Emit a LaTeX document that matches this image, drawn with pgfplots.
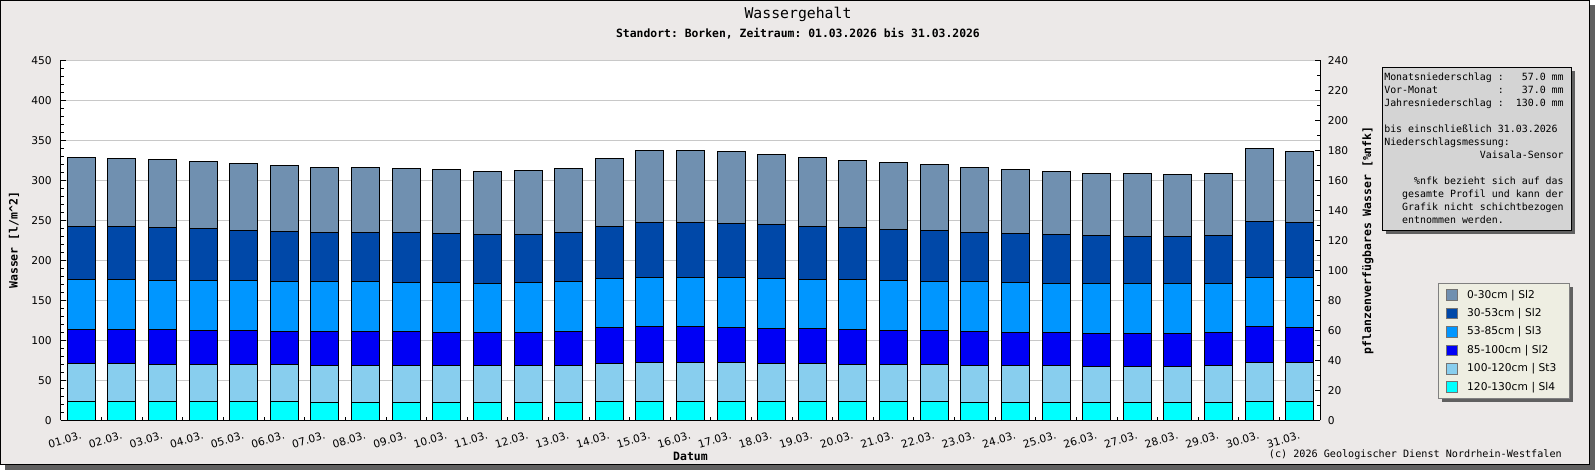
\documentclass[border=0pt]{standalone}
\usepackage{pgfplots}
\pgfplotsset{compat=1.18}
\usepackage{pgfplotstable}
\usepackage{fontspec}
\setmainfont{DejaVu Sans}
\setmonofont{DejaVu Sans Mono}

\definecolor{bg}{RGB}{236,233,232}
\definecolor{cS}{RGB}{112,144,176}
\definecolor{cD}{RGB}{0,72,168}
\definecolor{cM}{RGB}{0,150,255}
\definecolor{cB}{RGB}{0,0,245}
\definecolor{cL}{RGB}{136,206,238}
\definecolor{cC}{RGB}{0,255,255}
\definecolor{legbg}{RGB}{238,238,226}
\definecolor{infobg}{RGB}{212,212,212}
\definecolor{shadowc}{RGB}{96,96,96}
\definecolor{gridc}{RGB}{200,200,200}

% layer water content [l/m^2], bottom layer first
\pgfplotstableread{
x  c    lb   b    m    d    s
1  23.3 47.5 42.9 62.1 66.7 86.2
2  23.3 47.5 42.9 62.1 66.7 85.0
3  23.3 46.3 44.1 60.9 66.6 85.1
4  23.3 46.3 42.8 62.2 65.4 83.7
5  23.3 46.3 42.8 62.2 62.9 83.7
6  23.3 46.3 41.6 62.1 62.9 82.5
7  22.1 46.2 42.9 62.1 61.7 81.2
8  22.1 46.2 42.9 62.1 61.7 81.2
9  22.1 46.2 42.9 60.9 62.9 80.0
10 22.1 46.2 41.7 62.1 61.6 80.0
11 22.3 46.0 41.7 61.0 61.5 78.7
12 22.5 45.8 41.7 62.5 60.0 80.0
13 22.5 45.8 42.9 62.5 61.3 80.0
14 23.7 47.5 45.0 61.3 65.0 85.0
15 23.7 48.8 45.0 61.2 68.8 90.0
16 23.7 48.8 45.0 61.2 68.8 90.0
17 23.7 48.8 43.7 62.5 67.5 90.0
18 23.7 47.5 43.8 62.5 67.5 87.5
19 23.7 47.5 43.8 61.2 66.3 86.2
20 23.7 46.3 43.7 62.5 65.0 83.8
21 23.7 45.9 42.9 62.5 63.7 83.8
22 23.7 45.9 42.9 61.2 63.8 82.5
23 22.5 45.8 42.9 62.5 61.3 81.2
24 22.5 45.8 41.7 62.5 61.2 80.0
25 22.5 45.8 41.7 61.2 61.3 78.7
26 22.5 44.6 41.6 62.5 60.0 77.5
27 22.5 44.6 41.6 62.5 58.8 78.7
28 22.5 44.6 41.6 62.5 58.8 77.5
29 22.5 45.8 41.7 61.2 60.0 77.5
30 23.7 48.3 45.5 61.2 70.0 91.3
31 23.7 48.3 44.2 62.5 68.8 88.7
}\data

\newcommand\lbl{\fontsize{8.6}{10}\selectfont\ttfamily\bfseries}
\newcommand\tickf{\fontsize{8}{9.5}\selectfont}

\begin{document}
\begin{tikzpicture}[x=0.75pt,y=0.75pt]
\useasboundingbox (0,0) rectangle (1595,470);
% outer frame with shadow
\fill[shadowc] (5,0) rectangle (1595,465);
\filldraw[fill=bg,draw=black,line width=1.1pt] (0.75,5.75) rectangle (1589.25,469.25);

% titles
\node[font=\fontsize{11.1}{13}\selectfont\ttfamily] at (798,456) {Wassergehalt};
\node[font=\fontsize{8.55}{10}\selectfont\ttfamily\bfseries] at (798,436) {Standort: Borken, Zeitraum: 01.03.2026 bis 31.03.2026};

% legend shadow
\fill[shadowc] (1442,68) rectangle (1573,183);

\begin{axis}[
  at={(45.75pt,37.275pt)}, anchor=south west,
  scale only axis, width=944.25pt, height=270pt,
  xmin=0.5, xmax=31.5, ymin=0, ymax=450,
  axis x line*=bottom, axis y line*=left,
  axis line style={black, line width=0.75pt},
  axis background/.style={fill=white},
  ybar stacked, bar width=0.69,
  ytick={0,50,...,450}, minor y tick num=4,
  xtick={1,...,31},
  xticklabels={01.03.,02.03.,03.03.,04.03.,05.03.,06.03.,07.03.,08.03.,09.03.,10.03.,11.03.,12.03.,13.03.,14.03.,15.03.,16.03.,17.03.,18.03.,19.03.,20.03.,21.03.,22.03.,23.03.,24.03.,25.03.,26.03.,27.03.,28.03.,29.03.,30.03.,31.03.},
  minor xtick={1.5,2.5,...,30.5},
  major x tick style={draw=none},
  tick align=inside,
  major tick length=3.75pt, minor tick length=2.4pt,
  tick style={black, line width=0.6pt},
  ymajorgrids, grid style={gridc, line width=0.6pt},
  /pgf/number format/assume math mode=true,
  ticklabel style={font=\tickf},
  yticklabel style={xshift=-3.5pt},
  xticklabel style={rotate=16, anchor=north east, inner sep=1pt, yshift=-6.5pt, xshift=-2pt},
  xlabel={Datum}, xlabel style={font=\lbl, at={(axis description cs:0.5,-0.101)}, anchor=center},
  ylabel={Wasser [l/m\textasciicircum 2]}, ylabel style={font=\lbl, at={(axis description cs:-0.0373,0.5)}, anchor=center, rotate=0},
  reverse legend,
  legend cell align=left,
  legend style={at={(axis description cs:1.0937,0.3814)}, anchor=north west,
    fill=legbg, draw=gray, line width=0.6pt, font=\tickf,
    inner xsep=6pt, inner ysep=3pt, row sep=2.3pt,
    /tikz/every odd column/.style={column sep=7pt},
    nodes={inner xsep=0pt, inner ysep=1.5pt, text height=6.5pt, text depth=2pt, text width=71pt}},
  legend image code/.code={\draw[#1,draw=gray!90!black,line width=0.6pt] (0pt,-4pt) rectangle (8pt,4pt);},
]
\addplot[fill=cC, draw=black, line width=0.75pt] table[x=x,y=c] {\data};
\addlegendentry{120-130cm | Sl4}
\addplot[fill=cL, draw=black, line width=0.75pt] table[x=x,y=lb] {\data};
\addlegendentry{100-120cm | St3}
\addplot[fill=cB, draw=black, line width=0.75pt] table[x=x,y=b] {\data};
\addlegendentry{85-100cm | Sl2}
\addplot[fill=cM, draw=black, line width=0.75pt] table[x=x,y=m] {\data};
\addlegendentry{53-85cm | Sl3}
\addplot[fill=cD, draw=black, line width=0.75pt] table[x=x,y=d] {\data};
\addlegendentry{30-53cm | Sl2}
\addplot[fill=cS, draw=black, line width=0.75pt] table[x=x,y=s] {\data};
\addlegendentry{0-30cm | Sl2}
\end{axis}

\begin{axis}[
  at={(45.75pt,37.275pt)}, anchor=south west,
  scale only axis, width=944.25pt, height=270pt,
  xmin=0.5, xmax=31.5, ymin=0, ymax=240,
  axis y line*=right, axis x line=none,
  axis line style={black, line width=0.75pt},
  ytick={0,20,...,240}, minor y tick num=1,
  tick align=inside,
  major tick length=3.75pt, minor tick length=2.4pt,
  tick style={black, line width=0.6pt},
  /pgf/number format/assume math mode=true,
  ticklabel style={font=\tickf},
  yticklabel style={xshift=2.3pt},
  ylabel={pflanzenverfügbares Wasser [\%nfk]},
  ylabel style={font=\lbl, at={(axis description cs:1.0381,0.5)}, anchor=center},
]
\end{axis}

% info box
\fill[shadowc] (1385.5,235.5) rectangle (1574.5,398.5);
\filldraw[fill=infobg,draw=black,line width=0.75pt] (1382,239) rectangle (1571,402);
\node[anchor=north west, inner sep=0pt] at (1384,397) {\parbox[t]{30\fontcharwd\font`0}{%
\fontsize{7.45}{9.75}\selectfont\ttfamily
\makebox[30\fontcharwd\font`0][l]{Monatsniederschlag :\hfill 57.0 mm}\\
\makebox[30\fontcharwd\font`0][l]{Vor-Monat\hphantom{xxxxxxxxxx}:\hfill 37.0 mm}\\
\makebox[30\fontcharwd\font`0][l]{Jahresniederschlag :\hfill 130.0 mm}\\
\mbox{}\\
\makebox[30\fontcharwd\font`0][l]{bis einschließlich 31.03.2026}\\
\makebox[30\fontcharwd\font`0][l]{Niederschlagsmessung:}\\
\makebox[30\fontcharwd\font`0][r]{Vaisala-Sensor}\\
\mbox{}\\
\makebox[30\fontcharwd\font`0][r]{\%nfk bezieht sich auf das}\\
\makebox[30\fontcharwd\font`0][l]{\hphantom{xxx}gesamte Profil und kann der}\\
\makebox[30\fontcharwd\font`0][l]{\hphantom{xxx}Grafik nicht schichtbezogen}\\
\makebox[30\fontcharwd\font`0][l]{\hphantom{xxx}entnommen werden.}}};

% copyright
\node[anchor=east, font=\fontsize{7.6}{9}\selectfont\ttfamily, inner sep=0pt] at (1562,15) {(c) 2026 Geologischer Dienst Nordrhein-Westfalen};
\end{tikzpicture}
\end{document}
